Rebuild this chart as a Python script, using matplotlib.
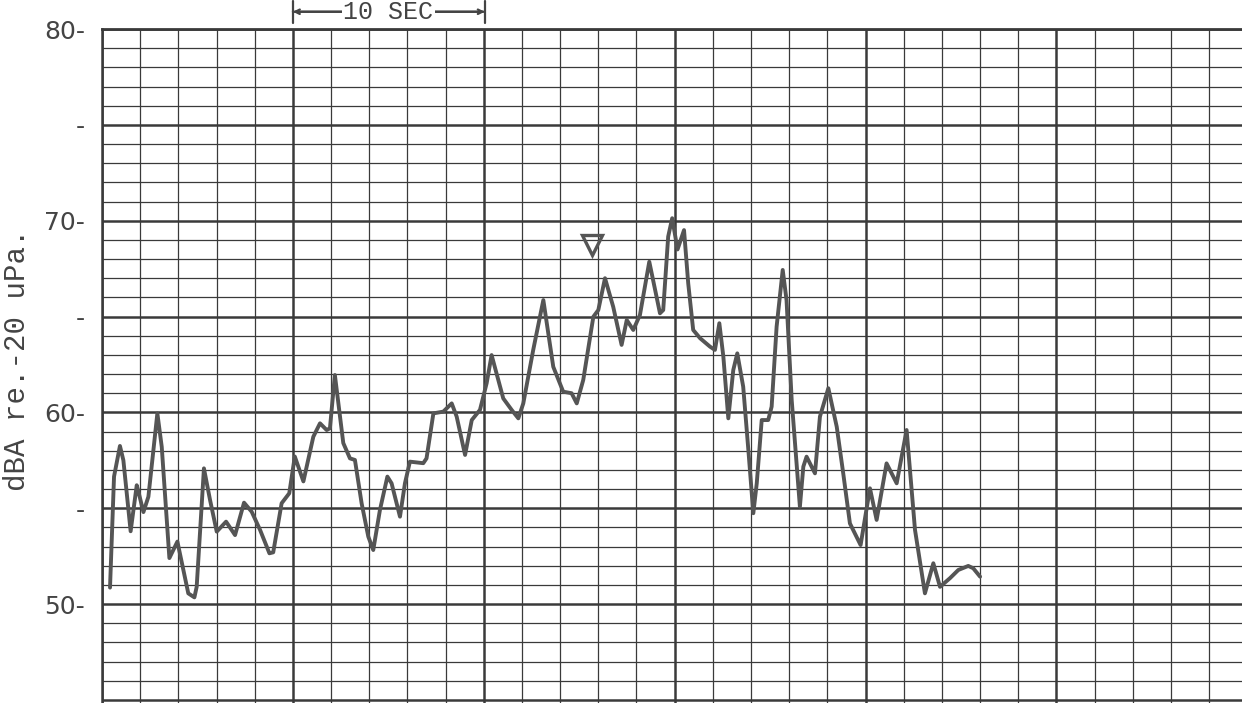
import numpy as np
import matplotlib
matplotlib.use("Agg")
import matplotlib.pyplot as plt

# level trace (seconds, dBA)
t_sec = [0.42, 0.63, 0.94, 1.12, 1.50, 1.82, 1.90, 2.17, 2.43, 2.90,
         3.13, 3.53, 3.95, 4.52, 4.84, 4.96, 5.34, 5.66, 6.01, 6.50,
         6.97, 7.44, 7.84, 8.28, 8.77, 8.97, 9.41, 9.81, 10.10, 10.55,
         11.07, 11.42, 11.77, 11.94, 12.20, 12.64, 12.99, 13.25, 13.60, 13.95,
         14.21, 14.56, 14.95, 15.17, 15.61, 15.87, 16.13, 16.83, 17.00, 17.36,
         17.88, 18.32, 18.58, 19.02, 19.37, 19.80, 20.15, 20.41, 21.02, 21.46,
         21.81, 22.07, 22.59, 23.12, 23.64, 24.16, 24.60, 24.87, 25.21, 25.74,
         26.00, 26.35, 26.78, 27.22, 27.49, 27.83, 28.18, 28.67, 29.23, 29.40,
         29.66, 29.87, 30.15, 30.49, 30.71, 30.97, 31.33, 31.85, 32.11, 32.34,
         32.55, 32.81, 33.07, 33.28, 33.59, 33.86, 34.12, 34.30, 34.56, 34.90,
         35.08, 35.34, 35.66, 35.86, 36.13, 36.56, 36.74, 36.91, 37.35, 37.61,
         38.05, 38.49, 38.83, 39.18, 39.74, 40.23, 40.58, 41.10, 41.63, 42.15,
         42.59, 43.11, 43.55, 43.90, 44.42, 44.86, 45.38, 45.64, 46.00]
dba = [50.86, 56.65, 58.25, 57.50, 53.80, 56.20, 55.90, 54.80, 55.60, 59.95,
       58.20, 52.40, 53.26, 50.56, 50.35, 50.90, 57.08, 55.43, 53.78, 54.30,
       53.60, 55.29, 54.82, 53.87, 52.65, 52.70, 55.26, 55.78, 57.70, 56.40,
       58.73, 59.43, 59.08, 59.17, 61.95, 58.40, 57.60, 57.52, 55.26, 53.52,
       52.82, 54.91, 56.65, 56.30, 54.56, 56.30, 57.43, 57.35, 57.60, 59.95,
       60.04, 60.47, 59.78, 57.78, 59.60, 60.13, 61.52, 62.99, 60.73, 60.13,
       59.69, 60.47, 63.26, 65.86, 62.38, 61.08, 61.00, 60.47, 61.69, 64.99,
       65.34, 67.00, 65.51, 63.52, 64.82, 64.30, 65.08, 67.86, 65.17, 65.34,
       69.17, 70.13, 68.50, 69.51, 66.73, 64.30, 63.87, 63.43, 63.26, 64.65,
       62.91, 59.69, 62.21, 63.08, 61.34, 58.04, 54.74, 56.30, 59.60, 59.60,
       60.30, 64.47, 67.43, 65.86, 60.65, 55.08, 57.17, 57.69, 56.82, 59.78,
       61.26, 59.25, 56.82, 54.21, 53.08, 56.04, 54.39, 57.34, 56.30, 59.08,
       53.87, 50.56, 52.13, 50.90, 51.35, 51.78, 51.99, 51.87, 51.43]

# marker (open triangle) position
mark_t = [25.65]
mark_db = [68.73]

ytick_vals = [50, 55, 60, 65, 70, 75, 80]
ytick_text = ["50-", "-", "60-", "-", "70-", "-", "80-"]

grid_col = "#3a3a3a"
trace_col = "#555555"
text_col = "#444444"

fig = plt.figure(figsize=(12.42, 7.03), dpi=100)
ax = fig.add_axes([102 / 1242, 0.0, 1 - 102 / 1242, 1 - 29 / 703])
ax.set_xlim(0, 59.72)
ax.set_ylim(44.84, 80)

# chart paper grid
for x in np.arange(0, 60, 2):
    heavy = (x % 10 == 0)
    ax.axvline(x, color=grid_col, lw=1.8 if heavy else 0.9, zorder=1)
for y in np.arange(45, 81, 1):
    heavy = (y % 5 == 0)
    ax.axhline(y, color=grid_col, lw=1.8 if heavy else 0.9, zorder=1)

ax.plot(t_sec, dba, color=trace_col, lw=2.8, solid_joinstyle="round",
        solid_capstyle="round", zorder=3)
ax.plot(mark_t, mark_db, marker="v", ms=15, mfc="none", mec=trace_col, mew=2.4,
        ls="none", zorder=3)

for s in ["right", "bottom"]:
    ax.spines[s].set_visible(False)
ax.spines["left"].set_color(grid_col)
ax.spines["left"].set_linewidth(1.8)
ax.spines["top"].set_color(grid_col)
ax.spines["top"].set_linewidth(2.0)

ax.set_xticks([])
ax.set_yticks(ytick_vals)
ax.set_yticklabels(ytick_text, fontsize=18, color=text_col, family="DejaVu Sans",
                   fontweight="medium")
ax.tick_params(axis="y", length=0, pad=12)

ax.set_ylabel("dBA re.-20 uPa.", fontsize=21, family="Liberation Mono",
              color=text_col)
ax.yaxis.set_label_coords(-0.062, 0.51)

# "10 SEC" scale bar above the chart
for style in ["|-|", "<->"]:
    ax.annotate("", xy=(10.0, 80.9), xytext=(20.05, 80.9), annotation_clip=False,
                arrowprops=dict(arrowstyle=style, color=text_col, lw=1.6,
                                shrinkA=0, shrinkB=0, mutation_scale=8))
ax.text(15.0, 80.9, "10 SEC", ha="center", va="center", fontsize=18,
        family="Liberation Mono", color=text_col, clip_on=False,
        bbox=dict(facecolor="white", edgecolor="none", pad=1))

fig.savefig("out.png", dpi=100)
